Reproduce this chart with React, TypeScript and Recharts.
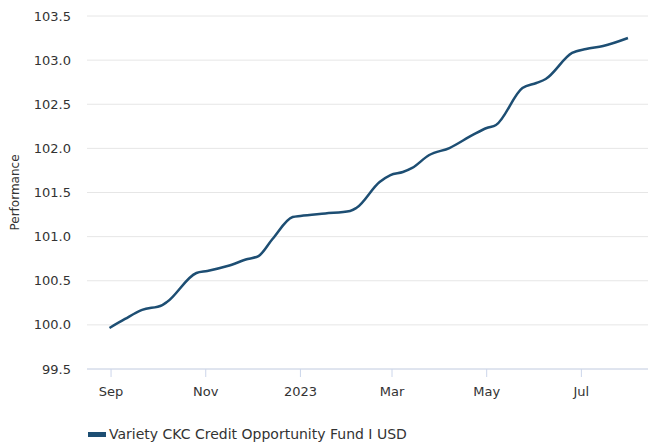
import React from 'react';
import { LineChart, Line, XAxis, YAxis, CartesianGrid, Label } from 'recharts';

const dates = [
  '2022-08-31', '2022-09-10', '2022-09-21', '2022-10-04', '2022-10-07',
  '2022-10-26', '2022-11-02', '2022-11-15', '2022-11-28', '2022-12-05',
  '2022-12-14', '2022-12-27', '2023-01-01', '2023-01-17', '2023-02-02',
  '2023-02-06', '2023-02-21', '2023-02-28', '2023-03-08', '2023-03-14',
  '2023-03-25', '2023-04-07', '2023-04-22', '2023-05-01', '2023-05-07',
  '2023-05-24', '2023-06-02', '2023-06-08', '2023-06-25', '2023-07-04',
  '2023-07-15', '2023-07-31',
];
const values = [
  99.965, 100.067, 100.169, 100.225, 100.259,
  100.588, 100.611, 100.667, 100.746, 100.78,
  100.973, 101.222, 101.234, 101.262, 101.29,
  101.324, 101.619, 101.698, 101.732, 101.778,
  101.925, 102.004, 102.152, 102.231, 102.265,
  102.684, 102.741, 102.786, 103.081, 103.126,
  103.16, 103.251,
];
const tickDates = ['2022-09-01', '2022-11-01', '2023-01-01', '2023-03-01', '2023-05-01', '2023-07-01'];
const tickLabels = ['Sep', 'Nov', '2023', 'Mar', 'May', 'Jul'];
const yTicks = [99.5, 100, 100.5, 101, 101.5, 102, 102.5, 103, 103.5];
const seriesName = 'Variety CKC Credit Opportunity Fund I USD';

const xDomain = [Date.parse('2022-08-16T12:00:00Z'), Date.parse('2023-08-12T22:00:00Z')];
const xTicks = tickDates.map((d) => Date.parse(d + 'T00:00:00Z'));

const data = dates.map((d, i) => ({ t: Date.parse(d + 'T00:00:00Z'), v: values[i] }));

const COLOR = '#1d4e73';
const FONT = '"DejaVu Sans", Verdana, sans-serif';

export default function App() {
  return (
    <div style={{ position: 'absolute', left: 0, top: 0, width: 648, height: 443, fontFamily: FONT, background: '#fff' }}>
      <LineChart width={648} height={443} data={data} margin={{ top: 16, right: 0, bottom: 44, left: 0 }}>
        <CartesianGrid vertical={false} stroke="#e6e6e6" />
        <XAxis
          dataKey="t"
          type="number"
          scale="time"
          domain={xDomain}
          ticks={xTicks}
          tickFormatter={(v: number) => tickLabels[xTicks.indexOf(v)] ?? ''}
          height={30}
          tickSize={8}
          tickMargin={10}
          axisLine={{ stroke: '#ccd6eb' }}
          tickLine={{ stroke: '#ccd6eb' }}
          tick={{ fill: '#333333', fontSize: 13, fontFamily: FONT }}
          allowDataOverflow
        />
        <YAxis
          type="number"
          domain={[99.5, 103.5]}
          ticks={yTicks}
          tickFormatter={(v: number) => v.toFixed(1)}
          width={87}
          axisLine={false}
          tickLine={false}
          tickSize={0}
          tickMargin={16}
          tick={{ fill: '#333333', fontSize: 13, fontFamily: FONT }}
        >
          <Label
            content={() => (
              <text
                x={15}
                y={192.5}
                transform="rotate(-90 15 192.5)"
                textAnchor="middle"
                dominantBaseline="central"
                fill="#333333"
                fontSize={12}
                fontFamily={FONT}
              >
                Performance
              </text>
            )}
          />
        </YAxis>
        <Line
          type="monotone"
          dataKey="v"
          name={seriesName}
          stroke={COLOR}
          strokeWidth={2.5}
          dot={false}
          activeDot={false}
          isAnimationActive={false}
        />
      </LineChart>
      <div
        style={{
          position: 'absolute',
          left: 88,
          top: 425,
          height: 18,
          display: 'flex',
          alignItems: 'center',
          fontSize: 14,
          color: '#333333',
          fontFamily: FONT,
          whiteSpace: 'nowrap',
        }}
      >
        <span style={{ display: 'inline-block', width: 18, height: 5, background: COLOR, marginRight: 3 }} />
        <span>{seriesName}</span>
      </div>
    </div>
  );
}
